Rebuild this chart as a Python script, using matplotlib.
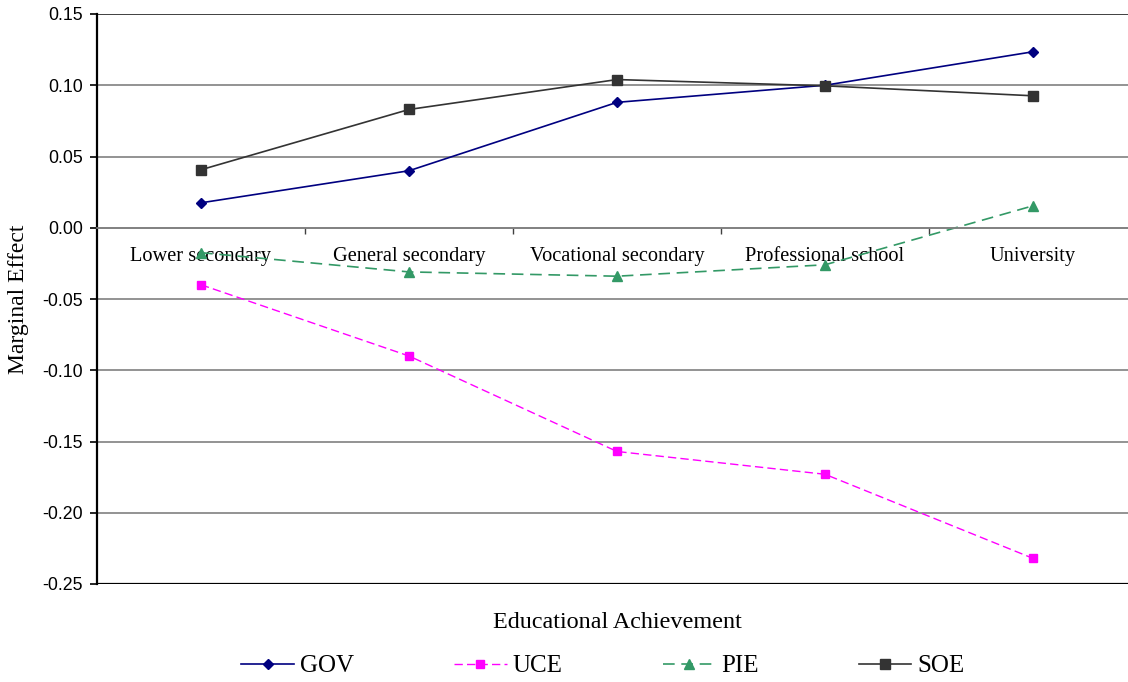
import matplotlib
matplotlib.use('Agg')
import matplotlib.pyplot as plt
from matplotlib.ticker import FixedLocator

categories = ['Lower secondary', 'General secondary', 'Vocational secondary',
              'Professional school', 'University']
gov = [0.0175, 0.040, 0.088, 0.100, 0.1235]
uce = [-0.040, -0.090, -0.157, -0.173, -0.232]
pie = [-0.0175, -0.031, -0.034, -0.026, 0.0154]
soe = [0.0407, 0.083, 0.104, 0.0996, 0.0926]
y_ticks = [-0.25, -0.20, -0.15, -0.10, -0.05, 0.00, 0.05, 0.10, 0.15]

serif = 'Liberation Serif'
sans = 'Liberation Sans'

fig = plt.figure(figsize=(11.28, 6.82), dpi=100)
ax = fig.add_axes([97 / 1128, 1 - 584 / 682, 1040 / 1128, 570 / 682])

x = list(range(len(categories)))
ax.plot(x, gov, color='#000080', lw=1.2, marker='D', ms=5.5, label='GOV')
ax.plot(x, uce, color='#FF00FF', lw=1.0, ls=(0, (6, 3)), marker='s', ms=6, label='UCE')
ax.plot(x, pie, color='#339966', lw=1.2, ls=(0, (7, 4)), marker='^', ms=6.5, label='PIE')
ax.plot(x, soe, color='#333333', lw=1.2, marker='s', ms=6.5, label='SOE')

ax.set_xlim(-0.5, len(categories) - 0.5)
ax.set_ylim(-0.25, 0.15)

# gridlines
for v in y_ticks:
    if v in (-0.25, 0.15):
        continue
    ax.axhline(v, color='#808080', lw=1.2, zorder=0)
ax.axhline(0.15, color='#202020', lw=1.2, zorder=0)
ax.axhline(-0.25, color='black', lw=1.6, zorder=0)

for s in ['top', 'right']:
    ax.spines[s].set_visible(False)
ax.spines['left'].set_linewidth(1.6)
ax.spines['bottom'].set_position(('data', 0))
ax.spines['bottom'].set_color('#808080')
ax.spines['bottom'].set_linewidth(1.2)

ax.set_yticks(y_ticks)
ax.set_yticklabels(['%.2f' % v for v in y_ticks], fontfamily=sans, fontsize=12.8)
ax.tick_params(axis='y', length=5, width=1.2, pad=5)

ax.set_xticks(x)
ax.set_xticklabels(categories, fontfamily=serif, fontsize=14.7)
ax.xaxis.set_minor_locator(FixedLocator([i + 0.5 for i in x]))
ax.tick_params(axis='x', which='major', length=0, pad=14)
ax.tick_params(axis='x', which='minor', length=4, width=1, color='#404040')

ax.set_ylabel('Marginal Effect', fontfamily=serif, fontsize=17)
ax.yaxis.set_label_coords((29 - 97) / 1040, 0.5)
ax.text(0.5, -(622 - 584) / 570, 'Educational Achievement', transform=ax.transAxes,
        ha='center', va='center', fontfamily=serif, fontsize=17.4)

fig.legend(loc='center', bbox_to_anchor=(603 / 1128, 1 - 666 / 682), ncol=4,
           frameon=False, prop={'family': serif, 'size': 18},
           handlelength=2.1, handletextpad=0.25, columnspacing=4.0)

fig.savefig('out.png', dpi=100)
